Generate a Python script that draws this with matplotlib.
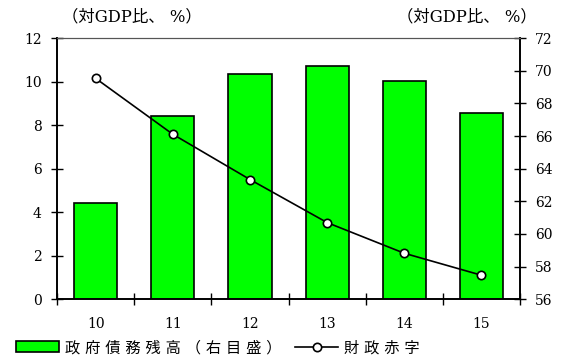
import numpy as np
import matplotlib
matplotlib.use("Agg")
import matplotlib.pyplot as plt
from matplotlib.patches import Patch
from matplotlib.lines import Line2D

plt.rcParams['font.family'] = ['DejaVu Serif', 'Noto Sans CJK JP']

# data
years = ['10', '11', '12', '13', '14', '15']
deficit = [10.15, 7.58, 5.5, 3.52, 2.11, 1.1]      # left axis
debt = [61.9, 67.2, 69.8, 70.3, 69.4, 67.4]        # right axis

x = np.arange(len(years))

fig = plt.figure(figsize=(5.83, 3.6), dpi=100)
ax = fig.add_axes([0.098, 0.169, 0.794, 0.725])
ax2 = ax.twinx()

# bars on the right axis, behind the line
ax2.bar(x, debt, width=0.56, color='#00ff00', edgecolor='black', linewidth=1.2)
ax2.set_ylim(56, 72)
ax2.set_yticks(np.arange(56, 73, 2))

ax.set_zorder(ax2.get_zorder() + 1)
ax.patch.set_visible(False)
ax.plot(x, deficit, color='black', lw=1.2, marker='o', ms=6,
        mfc='white', mec='black', mew=1.2)
ax.set_ylim(0, 12)
ax.set_yticks(np.arange(0, 13, 2))
ax.set_xlim(-0.5, len(years) - 0.5)

# category boundary ticks, labels centered
ax.set_xticks(np.arange(-0.5, len(years), 1.0))
ax.set_xticklabels([])
ax.set_xticks(x, minor=True)
ax.set_xticklabels(years, minor=True)
ax.tick_params(axis='x', which='major', direction='inout', length=8, width=1)
ax.tick_params(axis='x', which='minor', length=0, pad=13, labelsize=10)
ax.tick_params(axis='y', direction='inout', length=8, width=1, labelsize=10, pad=7)
ax2.tick_params(axis='y', direction='inout', length=8, width=1, labelsize=10, pad=7)

for a in (ax, ax2):
    a.spines['top'].set_color('#555555')
    a.spines['left'].set_linewidth(1.2)
    a.spines['right'].set_linewidth(1.2)
    a.spines['bottom'].set_linewidth(1.2)

unit = '（対GDP比、 %）'
fig.text(0.106, 0.952, unit, fontsize=11.8, ha='left', va='center')
fig.text(0.681, 0.952, unit, fontsize=11.8, ha='left', va='center')

handles = [Patch(facecolor='#00ff00', edgecolor='black', linewidth=1.2),
           Line2D([], [], color='black', lw=1.2, marker='o', ms=6,
                  mfc='white', mec='black', mew=1.2)]
labels = [' '.join('政府債務残高（右目盛）'), ' '.join('財政赤字')]
fig.legend(handles, labels, loc='lower left', bbox_to_anchor=(0.012, -0.012),
           ncol=2, frameon=False, fontsize=11, handlelength=2.8,
           handletextpad=0.4, columnspacing=0.9, borderaxespad=0.2)

fig.savefig('out.png', dpi=100)
